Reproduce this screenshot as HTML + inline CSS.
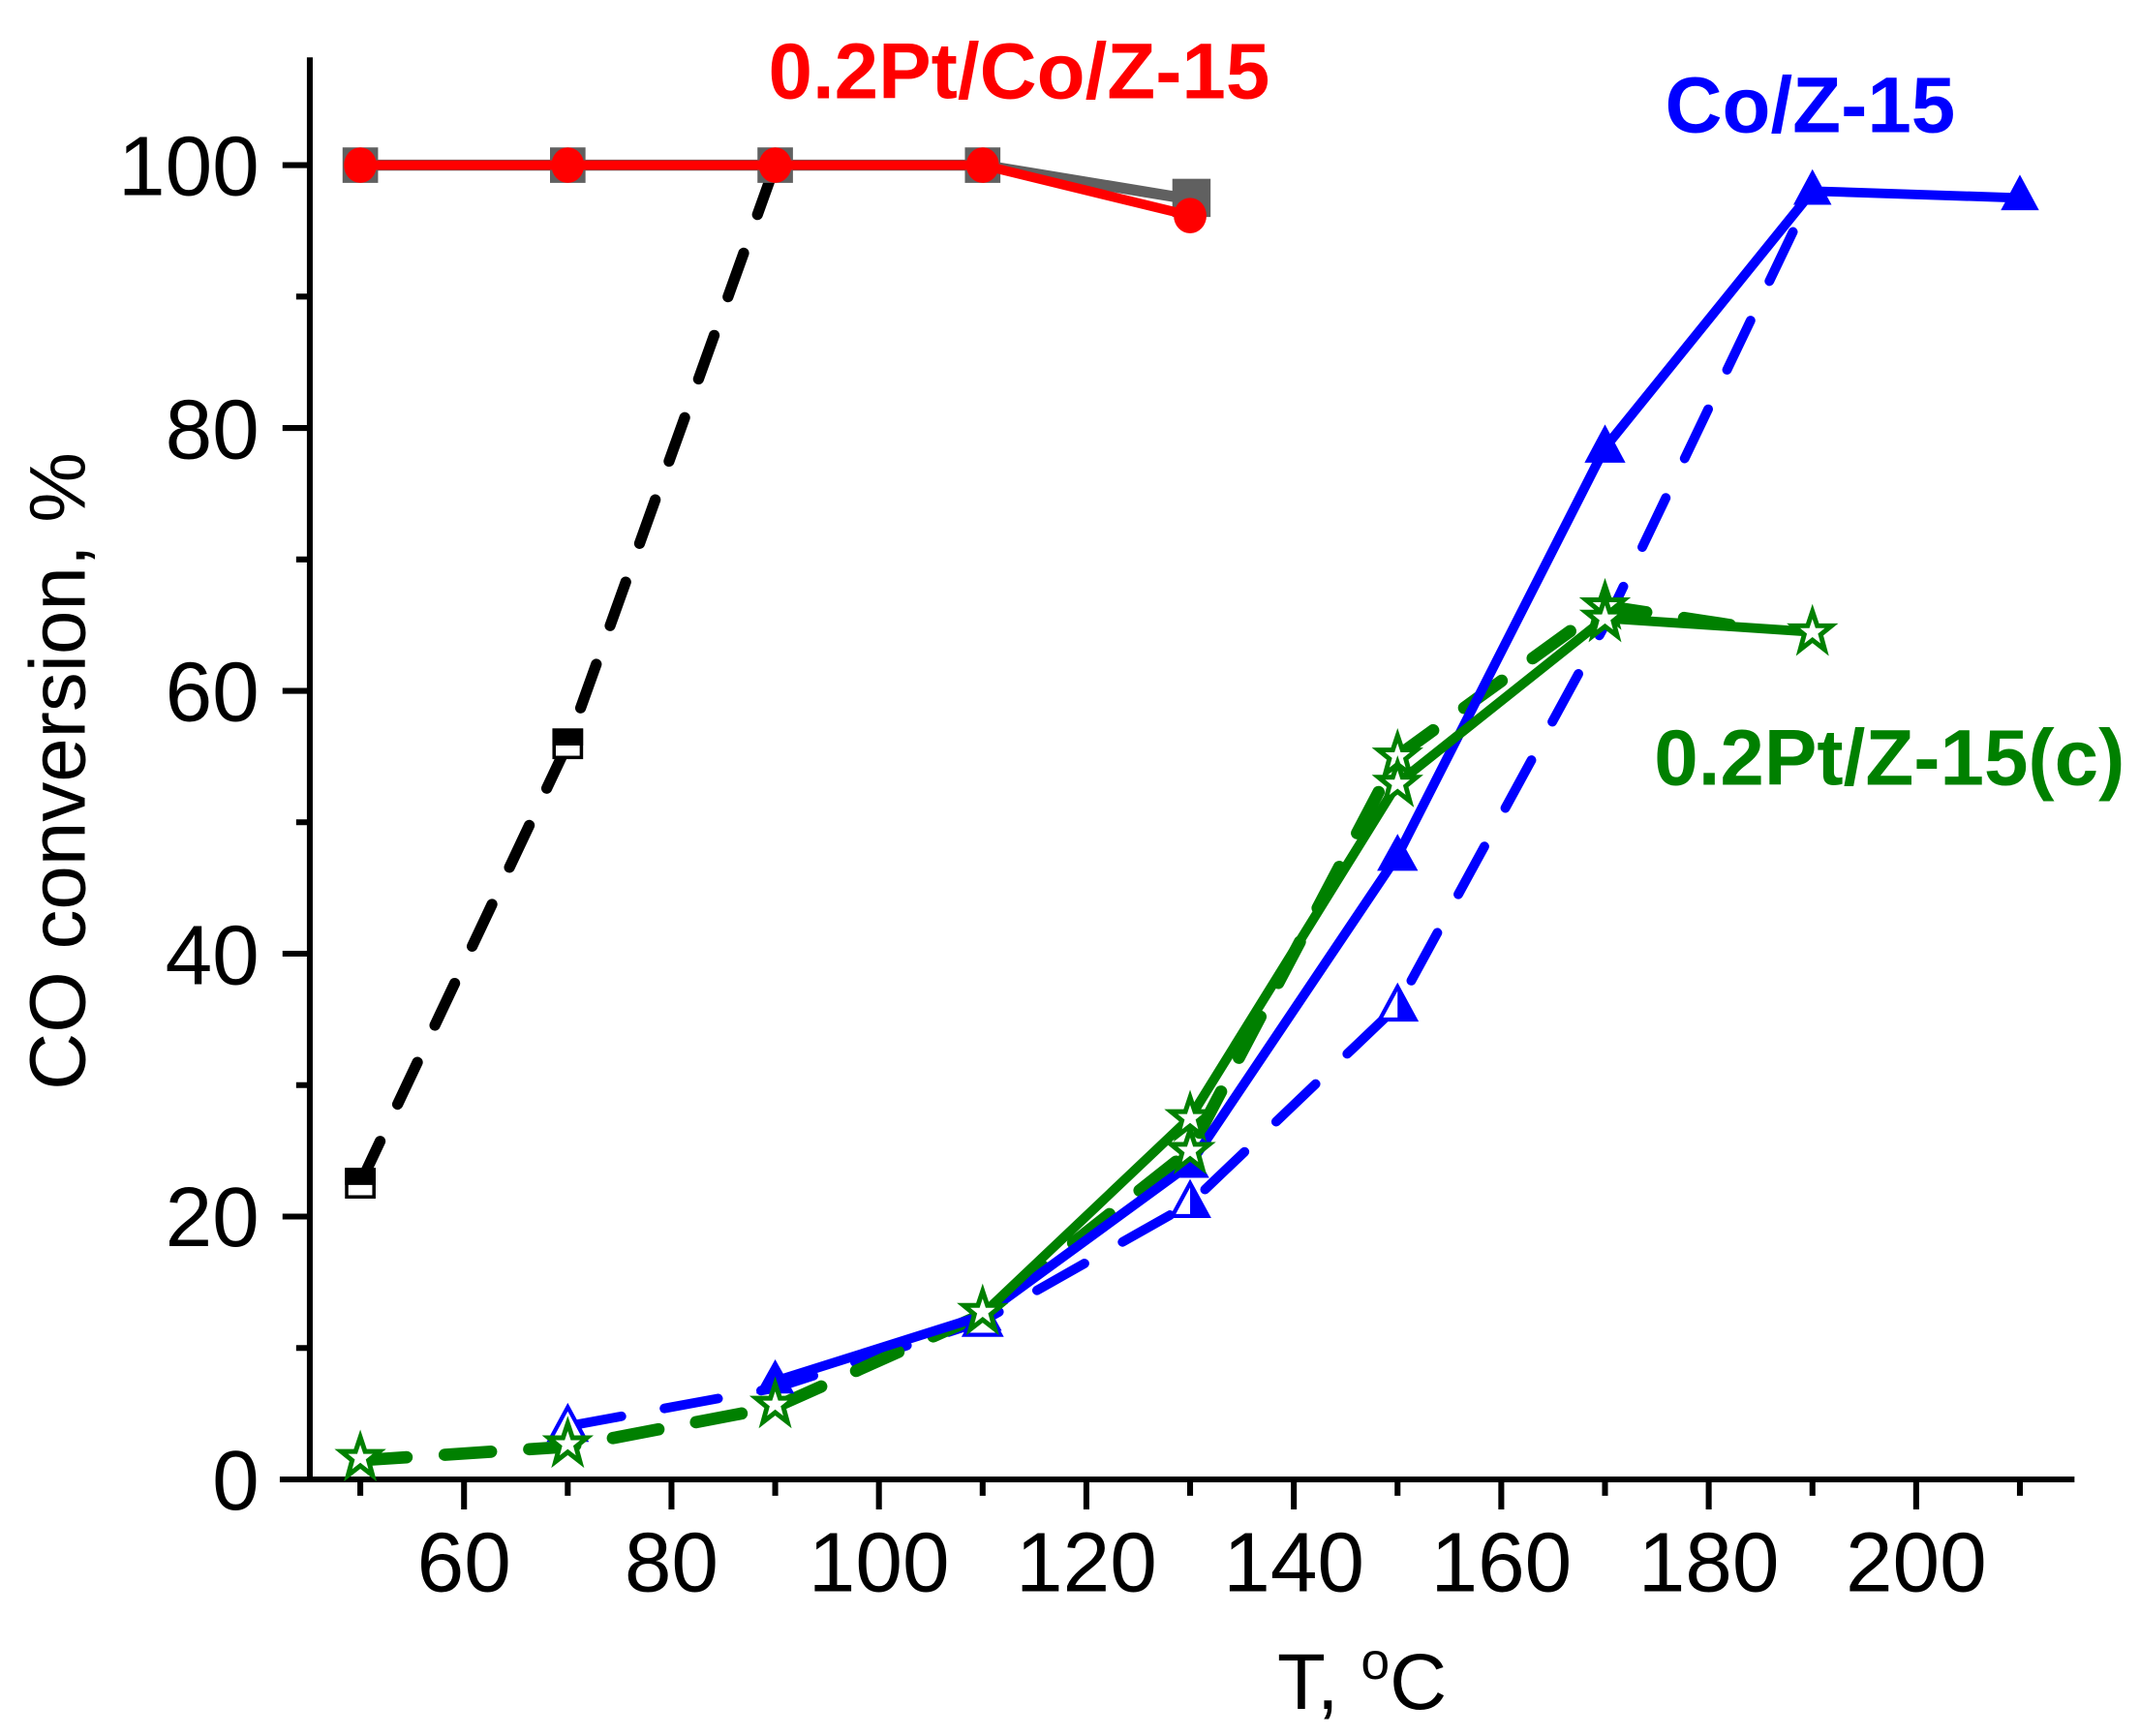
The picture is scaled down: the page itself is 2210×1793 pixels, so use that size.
<!DOCTYPE html>
<html><head><meta charset="utf-8"><style>html,body{margin:0;padding:0;background:#fff}svg{display:block}</style></head>
<body>
<svg width="2210" height="1793" viewBox="0 0 1568 1272" preserveAspectRatio="none" xmlns="http://www.w3.org/2000/svg" font-family="Liberation Sans, sans-serif">
<rect width="1568" height="1272" fill="#fff"/>
<g stroke="#000" stroke-width="4.3" fill="none">
<line x1="227" y1="42" x2="227" y2="1086"/>
<line x1="205" y1="1084" x2="1520" y2="1084"/>
<path d="M207 1084H227M207 891.4H227M207 698.8H227M207 506.2H227M207 313.6H227M207 121H227"/>
<path d="M217 987.7H227M217 795.1H227M217 602.5H227M217 409.9H227M217 217.3H227"/>
<path d="M340 1084V1106M492 1084V1106M644 1084V1106M796 1084V1106M948 1084V1106M1100 1084V1106M1252 1084V1106M1404 1084V1106"/>
<path d="M264 1084V1096M416 1084V1096M568 1084V1096M720 1084V1096M872 1084V1096M1024 1084V1096M1176 1084V1096M1328 1084V1096M1480 1084V1096"/>
</g>
<g font-size="62" fill="#000" text-anchor="end">
<text x="190" y="1106">0</text><text x="190" y="913">20</text><text x="190" y="721">40</text><text x="190" y="528">60</text><text x="190" y="336">80</text><text x="190" y="143">100</text>
</g>
<g font-size="62" fill="#000" text-anchor="middle">
<text x="340" y="1166">60</text><text x="492" y="1166">80</text><text x="644" y="1166">100</text><text x="796" y="1166">120</text><text x="948" y="1166">140</text><text x="1100" y="1166">160</text><text x="1252" y="1166">180</text><text x="1404" y="1166">200</text>
</g>
<text x="998" y="1252" font-size="58" text-anchor="middle">T, <tspan font-size="38" dy="-22">o</tspan><tspan dy="22">C</tspan></text>
<text transform="translate(62,565) rotate(-90)" font-size="58" text-anchor="middle">CO conversion, %</text>

<polyline points="264,867 416,545 568,121" fill="none" stroke="#000" stroke-width="8" stroke-dasharray="34,30" stroke-linecap="round"/>
<polyline points="264,121 416,121 568,121 720,121 872,146" fill="none" stroke="#606060" stroke-width="8"/>
<g fill="#606060">
<rect x="251" y="108" width="26" height="26"/><rect x="403" y="108" width="26" height="26"/><rect x="555" y="108" width="26" height="26"/><rect x="707" y="108" width="26" height="26"/><rect x="859" y="131" width="28" height="28"/>
</g>
<g stroke="#000" stroke-width="2.5">
<rect x="254" y="857" width="20" height="20" fill="#fff"/><path d="M254 857h20v10h-20z" fill="#000"/>
<rect x="406" y="535" width="20" height="20" fill="#fff"/><path d="M406 535h20v10h-20z" fill="#000"/>
</g>
<polyline points="264,121 416,121 568,121 720,121 872,158" fill="none" stroke="#f00" stroke-width="7"/>
<g fill="#f00"><ellipse cx="264" cy="121" rx="12" ry="13"/><ellipse cx="416" cy="121" rx="12" ry="13"/><ellipse cx="568" cy="121" rx="12" ry="13"/><ellipse cx="720" cy="121" rx="12" ry="13"/><ellipse cx="872" cy="158" rx="12" ry="13"/></g>

<polyline points="416,1045 568,1017 720,968 872,882 1024,737 1176,458 1328,140" fill="none" stroke="#00f" stroke-width="7" stroke-dasharray="40,32" stroke-linecap="round"/>
<polyline points="264,1070 416,1060 568,1031 720,963 872,843 1024,554 1176,444 1268,458" fill="none" stroke="#008000" stroke-width="9" stroke-dasharray="34,28" stroke-linecap="round"/>
<polyline points="568,1012 720,964 872,853 1024,627 1176,328 1328,140 1480,145" fill="none" stroke="#00f" stroke-width="7"/>
<polyline points="720,963 872,819 1024,574 1176,453 1328,463" fill="none" stroke="#008000" stroke-width="7"/>

<g fill="#00f">
<path d="M568 996l14 25h-28z"/><path d="M720 950l14 25h-28z"/><path d="M872 838l14 25h-28z"/><path d="M1024 611l15 27h-30z"/><path d="M1176 311l15 28h-30z"/><path d="M1328 124l14 26h-28z"/><path d="M1480 128l14 26h-28z"/>
</g>
<g stroke="#00f" stroke-width="3" fill="#fff">
<path d="M416 1031l13 24h-26z"/><path d="M720 954l13 24h-26z"/><path d="M872 867l13 24h-26z"/><path d="M1024 723l13 24h-26z"/>
</g>
<g fill="#00f"><path d="M1024 723l13 24h-13z"/><path d="M872 867l13 24h-13z"/></g>
<g fill="#fff" stroke="#008000" stroke-width="3.5">
<path d="M0 -15L3.5 -4.5L14 -4.5L6 2L9 13L0 6L-9 13L-6 2L-14 -4.5L-3.5 -4.5Z" transform="translate(264,1068)"/>
<path d="M0 -15L3.5 -4.5L14 -4.5L6 2L9 13L0 6L-9 13L-6 2L-14 -4.5L-3.5 -4.5Z" transform="translate(416,1058)"/>
<path d="M0 -15L3.5 -4.5L14 -4.5L6 2L9 13L0 6L-9 13L-6 2L-14 -4.5L-3.5 -4.5Z" transform="translate(568,1029)"/>
<path d="M0 -15L3.5 -4.5L14 -4.5L6 2L9 13L0 6L-9 13L-6 2L-14 -4.5L-3.5 -4.5Z" transform="translate(720,961)"/>
<path d="M0 -15L3.5 -4.5L14 -4.5L6 2L9 13L0 6L-9 13L-6 2L-14 -4.5L-3.5 -4.5Z" transform="translate(872,843)"/>
<path d="M0 -15L3.5 -4.5L14 -4.5L6 2L9 13L0 6L-9 13L-6 2L-14 -4.5L-3.5 -4.5Z" transform="translate(872,819)"/>
<path d="M0 -15L3.5 -4.5L14 -4.5L6 2L9 13L0 6L-9 13L-6 2L-14 -4.5L-3.5 -4.5Z" transform="translate(1024,554)"/>
<path d="M0 -15L3.5 -4.5L14 -4.5L6 2L9 13L0 6L-9 13L-6 2L-14 -4.5L-3.5 -4.5Z" transform="translate(1024,574)"/>
<path d="M0 -15L3.5 -4.5L14 -4.5L6 2L9 13L0 6L-9 13L-6 2L-14 -4.5L-3.5 -4.5Z" transform="translate(1176,444)"/>
<path d="M0 -15L3.5 -4.5L14 -4.5L6 2L9 13L0 6L-9 13L-6 2L-14 -4.5L-3.5 -4.5Z" transform="translate(1176,453)"/>
<path d="M0 -15L3.5 -4.5L14 -4.5L6 2L9 13L0 6L-9 13L-6 2L-14 -4.5L-3.5 -4.5Z" transform="translate(1328,463)"/>
</g>

<g font-weight="bold" font-size="58">
<text x="563" y="72" fill="#f00">0.2Pt/Co/Z-15</text>
<text x="1220" y="97" fill="#00f">Co/Z-15</text>
<text x="1212" y="575" fill="#008000">0.2Pt/Z-15(c)</text>
</g>
</svg>
</body></html>
